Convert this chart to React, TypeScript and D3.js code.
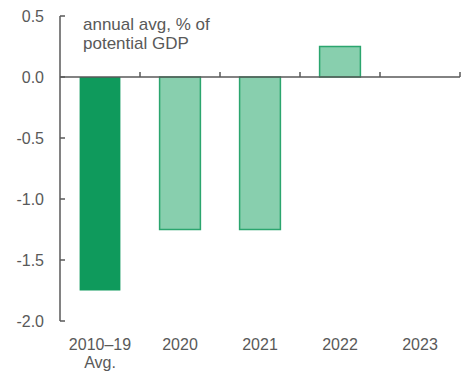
import React from "react";
import * as d3 from "d3";

const categories = ["2010–19|Avg.", "2020", "2021", "2022", "2023"];
const values: (number | null)[] = [-1.75, -1.25, -1.25, 0.25, null];
const yTicks = [0.5, 0.0, -0.5, -1.0, -1.5, -2.0];
const annotation = ["annual avg, % of", "potential GDP"];

const W = 463;
const H = 373;
const gray = "#595959";

export default function App() {
  const x = d3.scaleBand<string>().domain(categories).range([60, 460]).paddingInner(0).paddingOuter(0);
  const y = d3.scaleLinear().domain([-2, 0.5]).range([321, 16]);
  const bw = x.bandwidth() * 0.51;
  const font = "'Liberation Sans', Arial, sans-serif";
  return (
    <svg width={W} height={H} style={{ position: "absolute", left: 0, top: 0 }} fontFamily={font}>
      {values.map((v, i) => {
        if (v === null) return null;
        const cx = (x(categories[i]) as number) + x.bandwidth() / 2;
        const y0 = y(0), y1 = y(v);
        const top = Math.min(y0, y1), h = Math.abs(y1 - y0);
        const first = i === 0;
        return (
          <rect key={i} x={cx - bw / 2} y={top} width={bw} height={h}
            fill={first ? "#0F9A5C" : "#88CFAE"}
            stroke={first ? "#0F9A5C" : "#2BA56E"} strokeWidth={first ? 0 : 1.5} />
        );
      })}
      {/* y axis */}
      <line x1={60} x2={60} y1={y(0.5)} y2={y(-2)} stroke={gray} strokeWidth={1.5} />
      {yTicks.map((t) => (
        <g key={t}>
          <line x1={60} x2={65} y1={y(t)} y2={y(t)} stroke={gray} strokeWidth={1.5} />
          <text x={44} y={y(t)} dy="0.35em" textAnchor="end" fontSize={16} fill={gray}>
            {t.toFixed(1)}
          </text>
        </g>
      ))}
      {/* zero line */}
      <line x1={60} x2={460} y1={y(0)} y2={y(0)} stroke={gray} strokeWidth={1.5} />
      {categories.map((c, i) => {
        const bx = (x(c) as number) + x.bandwidth();
        return <line key={"t" + i} x1={bx} x2={bx} y1={y(0)} y2={y(0) - 5} stroke={gray} strokeWidth={1.5} />;
      })}
      {categories.map((c, i) => {
        const cx = (x(c) as number) + x.bandwidth() / 2;
        const parts = c.split("|");
        return (
          <text key={"l" + i} x={cx} y={350} textAnchor="middle" fontSize={16} fill={gray}>
            {parts.map((p, j) => (
              <tspan key={j} x={cx} dy={j === 0 ? 0 : 18}>{p}</tspan>
            ))}
          </text>
        );
      })}
      <text x={83} y={30} fontSize={17} fill={gray}>
        {annotation.map((a, j) => (
          <tspan key={j} x={83} dy={j === 0 ? 0 : 19}>{a}</tspan>
        ))}
      </text>
    </svg>
  );
}
